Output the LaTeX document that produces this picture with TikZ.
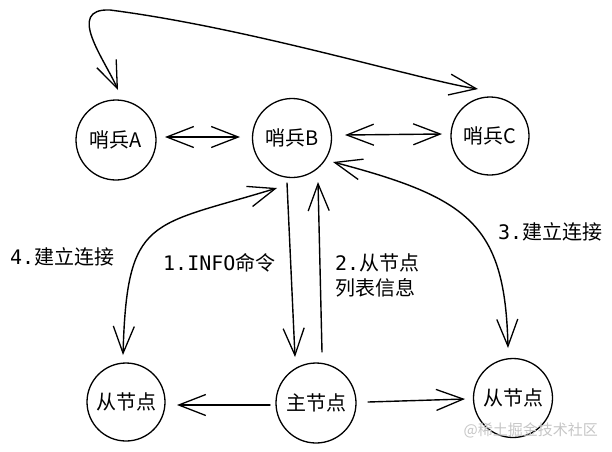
\documentclass[tikz,border=0pt]{standalone}
\usepackage{fontspec}
\setmainfont{Noto Sans CJK SC}
\newfontfamily\monof{DejaVu Sans Mono}
\usetikzlibrary{arrows.meta}
\begin{document}
\begin{tikzpicture}[x=1pt,y=-1pt,
  >={Straight Barb[length=27pt,width=21pt,line width=1.3pt]},
  circ/.style={circle,draw=black,line width=1.3pt,minimum size=#1,inner sep=0pt,font=\fontsize{20}{24}\selectfont},
  conn/.style={line width=1.4pt,line cap=round},
  lbl/.style={font=\fontsize{20}{25}\selectfont,inner sep=0pt,anchor=west,align=left},
]
\useasboundingbox (0,0) rectangle (612,451);
\fill[white] (0,0) rectangle (612,451);

% nodes
\node[circ=80pt] (A) at (116,140) {哨兵A};
\node[circ=79pt] (B) at (292,138) {哨兵B};
\node[circ=78pt] (C) at (490,136) {哨兵C};
\node[circ=78pt] (S1) at (126,402) {从节点};
\node[circ=80pt] (M) at (316,403) {主节点};
\node[circ=79pt] (S2) at (513,398) {从节点};

% straight connectors
\draw[conn,<->] ([shift={(49,-3)}]A.center) -- ([shift={(-52,-1)}]B.center);
\draw[conn,<->] ([shift={(53,-3)}]B.center) -- ([shift={(-48,-2)}]C.center);
\draw[conn,->] ([shift={(-46,2)}]M.center) -- ([shift={(51,3)}]S1.center);
\draw[conn,->] ([shift={(52,-1)}]M.center) -- ([shift={(-48,1)}]S2.center);
\draw[conn,->] ([shift={(-5,45)}]B.center) -- ([shift={(-21,-46)}]M.center);
\draw[conn,->] ([shift={(6,-51)}]M.center) -- ([shift={(26,44)}]B.center);

% curved connectors
\draw[conn,<->] ([shift={(-3,-47)}]S1.center) .. controls (127,215) and (150,227) .. ([shift={(-15,50)}]B.center);
\draw[conn,<->] ([shift={(41,24)}]B.center) .. controls (470,198) and (505,225) .. ([shift={(-5,-50)}]S2.center);
\draw[conn,<->] ([shift={(2,-50)}]A.center) .. controls (105,60) and (65,8) .. (110,10)
  .. controls (250,28) and (420,80) .. ([shift={(-12,-47)}]C.center);

% labels
\node[lbl] (l4) at (10,257) {{\monof 4.}建立连接};
\node[lbl] (l1) at (163,263) {{\monof 1.INFO}命令};
\node[lbl] (l2) at (335,275.5) {{\monof 2.}从节点\\列表信息};
\node[lbl] (l3) at (498,232) {{\monof 3.}建立连接};

% watermark
\node[font=\fontsize{15}{18}\selectfont,text=gray!45,anchor=east,inner sep=0pt] (wm) at (598,430) {@稀土掘金技术社区};
\end{tikzpicture}
\end{document}
